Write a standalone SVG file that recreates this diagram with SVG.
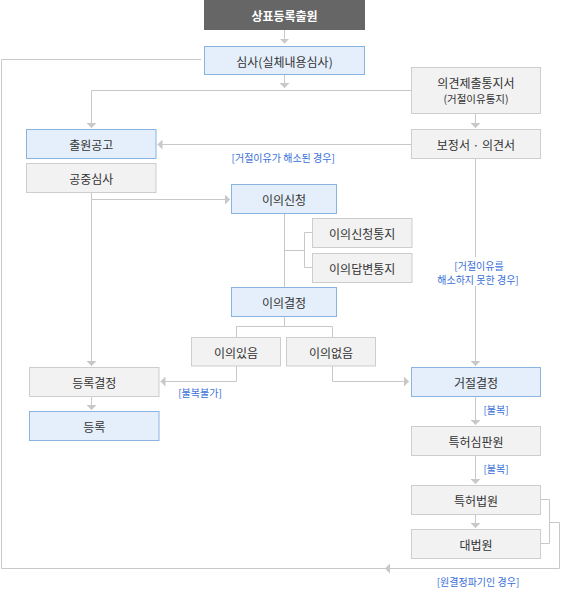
<svg xmlns="http://www.w3.org/2000/svg" width="570" height="593" viewBox="0 0 570 593">
<defs>
<marker id="ah" markerWidth="10" markerHeight="10" refX="5" refY="5" orient="auto" markerUnits="userSpaceOnUse">
<path d="M0,0 L5,5 L0,10 z" fill="#c8c8c8"/>
</marker>
<style>
.t{font-family:"Noto Sans CJK KR","Noto Sans",sans-serif;font-size:12px;fill:#333;text-anchor:middle;dominant-baseline:central}
.s{font-size:10.5px}
.w{fill:#fff;font-weight:bold}
.b rect{fill:#e4effb;stroke:#8ab4e0;stroke-width:1}
.g rect{fill:#f2f2f2;stroke:#cdcdcd;stroke-width:1}
.lbl{font-family:"Noto Sans CJK KR","Noto Sans",sans-serif;font-size:10px;fill:#3a6fd8;text-anchor:middle;dominant-baseline:central}
.c path{fill:none;stroke:#c8c8c8;stroke-width:1}
</style>
</defs>
<rect width="570" height="593" fill="#fff"/>
<g class="c" id="connectors">
<path d="M284.5,30 V43.5" marker-end="url(#ah)"/>
<path d="M284.5,74.5 V88" marker-end="url(#ah)"/>
<path d="M411,90.5 H91.5 V128" marker-end="url(#ah)"/>
<path d="M475.5,113.5 V128" marker-end="url(#ah)"/>
<path d="M411,144.5 H157.5" marker-end="url(#ah)"/>
<path d="M91.5,192.5 V366" marker-end="url(#ah)"/>
<path d="M91.5,199.5 H230" marker-end="url(#ah)"/>
<path d="M284.5,213.5 V287"/>
<path d="M284.5,250.5 H304.5 M312,232.5 H304.5 V267.5 H312"/>
<path d="M284.5,316.5 V326.5 M236.5,337 V326.5 H332.5 V337"/>
<path d="M236.5,366 V381.5 H160.5" marker-end="url(#ah)"/>
<path d="M332.5,366 V381.5 H409" marker-end="url(#ah)"/>
<path d="M475.5,158.5 V257"/>
<path d="M475.5,286 V366" marker-end="url(#ah)"/>
<path d="M475.5,396.5 V425" marker-end="url(#ah)"/>
<path d="M475.5,455.5 V484" marker-end="url(#ah)"/>
<path d="M475.5,514.5 V528" marker-end="url(#ah)"/>
<path d="M91.5,396.5 V410" marker-end="url(#ah)"/>
<path d="M541,499.5 H549.5 V543.5 H541 M549.5,522.5 H559.5 V568.5 H1.5 V59.5 H201"/>
<path d="M392,568.5 H385" marker-end="url(#ah)"/>
</g>
<g id="n1"><rect x="204" y="0" width="161" height="30" fill="#666"/><text class="t w" x="284.5" y="15.5">상표등록출원</text></g>
<g id="n2" class="b"><rect x="204.5" y="46.5" width="160" height="28"/><text class="t" x="284.5" y="61">심사(실체내용심사)</text></g>
<g id="n3" class="g"><rect x="411.5" y="67.5" width="129" height="46"/><text class="t" x="476" y="82">의견제출통지서</text><text class="t s" x="476" y="98">(거절이유통지)</text></g>
<g id="n4" class="b"><rect x="26.5" y="129.5" width="129.5" height="29"/><text class="t" x="91.3" y="144.5">출원공고</text></g>
<g id="n5" class="g"><rect x="411.5" y="129.5" width="129" height="29"/><text class="t" x="476" y="144.5">보정서 · 의견서</text></g>
<g id="n6" class="g"><rect x="26.5" y="163.5" width="129.5" height="29"/><text class="t" x="91.3" y="178.5">공중심사</text></g>
<g id="n7" class="b"><rect x="231.5" y="184.5" width="105" height="29"/><text class="t" x="284" y="199.5">이의신청</text></g>
<g id="n8" class="g"><rect x="312.5" y="218.5" width="99.5" height="29"/><text class="t" x="362.2" y="233.5">이의신청통지</text></g>
<g id="n9" class="g"><rect x="312.5" y="253.5" width="99.5" height="29"/><text class="t" x="362.2" y="268.5">이의답변통지</text></g>
<g id="n10" class="b"><rect x="231.5" y="287.5" width="105" height="29"/><text class="t" x="284" y="302.5">이의결정</text></g>
<g id="n11" class="g"><rect x="191.5" y="337.5" width="89" height="28.5"/><text class="t" x="236" y="352">이의있음</text></g>
<g id="n12" class="g"><rect x="286.5" y="337.5" width="89" height="28.5"/><text class="t" x="331" y="352">이의없음</text></g>
<g id="n13" class="g"><rect x="29.5" y="367.5" width="129.5" height="29"/><text class="t" x="94.3" y="382.5">등록결정</text></g>
<g id="n14" class="b"><rect x="411.5" y="367.5" width="129" height="29"/><text class="t" x="476" y="382.5">거절결정</text></g>
<g id="n15" class="b"><rect x="29.5" y="411.5" width="129.5" height="29"/><text class="t" x="94.3" y="426.5">등록</text></g>
<g id="n16" class="g"><rect x="411.5" y="426.5" width="129" height="29"/><text class="t" x="476" y="441.5">특허심판원</text></g>
<g id="n17" class="g"><rect x="411.5" y="485.5" width="129" height="29"/><text class="t" x="476" y="500.5">특허법원</text></g>
<g id="n18" class="g"><rect x="411.5" y="529.5" width="129" height="29"/><text class="t" x="476" y="544.5">대법원</text></g>
<g id="labels">
<text class="lbl" x="283.2" y="157">[거절이유가 해소된 경우]</text>
<text class="lbl" x="479" y="265">[거절이유를</text>
<text class="lbl" x="478" y="279">해소하지 못한 경우]</text>
<text class="lbl" x="200" y="392">[불복불가]</text>
<text class="lbl" x="496" y="409">[불복]</text>
<text class="lbl" x="496" y="468">[불복]</text>
<text class="lbl" x="478" y="581.5">[원결정파기인 경우]</text>
</g>
</svg>
